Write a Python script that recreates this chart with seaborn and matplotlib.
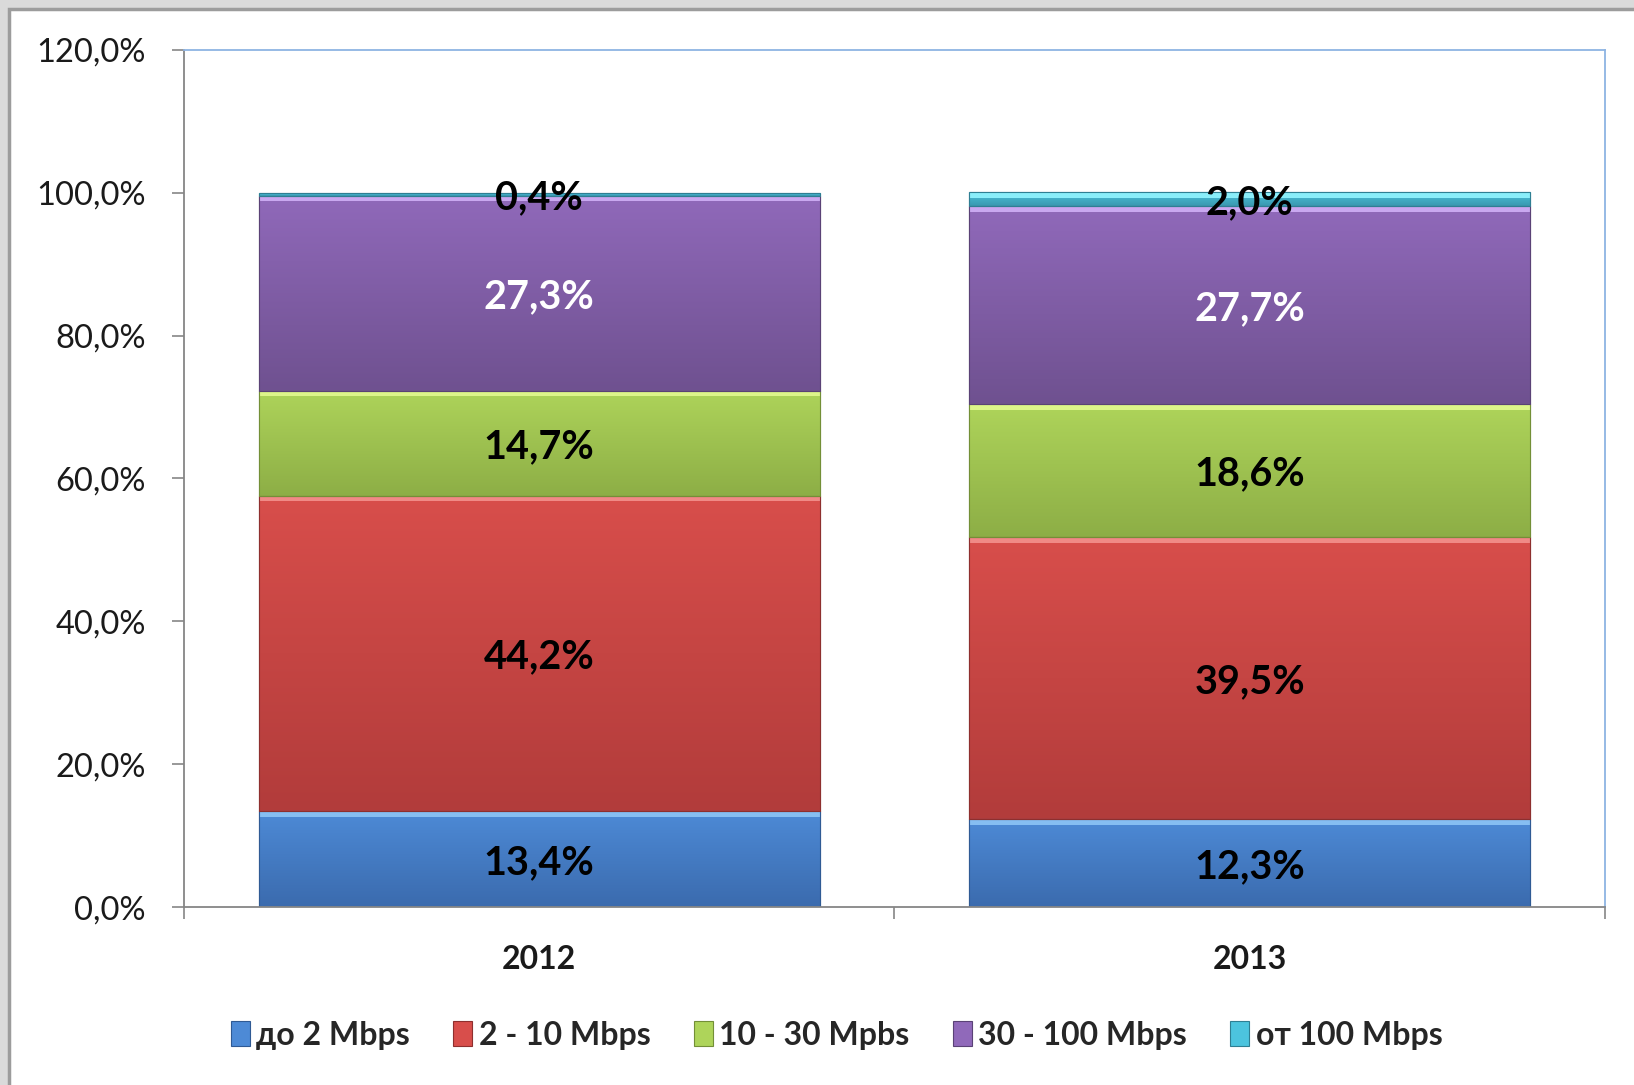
import numpy as np
import seaborn as sns
import matplotlib.pyplot as plt
from matplotlib.colors import LinearSegmentedColormap
from matplotlib.patches import Rectangle

# data
years = ["2012", "2013"]
series = ["до 2 Mbps", "2 - 10 Mbps", "10 - 30 Mpbs", "30 - 100 Mbps", "от 100 Mbps"]
do_2 = [13.4, 12.3]
s2_10 = [44.2, 39.5]
s10_30 = [14.7, 18.6]
s30_100 = [27.3, 27.7]
ot_100 = [0.4, 2.0]
yticks = [0, 20, 40, 60, 80, 100, 120]

# colours: top of gradient, bottom of gradient, highlight strip, edge
top_cols = ["#4D8AD6", "#D84E4B", "#AED45A", "#9069BA", "#4CC4DE"]
bot_cols = ["#3B6BAE", "#B23C3B", "#8DAE46", "#6F5190", "#3A98B0"]
hi_cols = ["#86BEF2", "#F08A86", "#DDF58A", "#C9A8F0", "#8AEEFA"]
edge_cols = ["#2F5A94", "#8E2F2E", "#738F37", "#5A4276", "#2F7F93"]
lab_cols = ["black", "black", "black", "white", "black"]

sns.set_theme(style="white")
plt.rcParams['font.family'] = ['Lato', 'Open Sans', 'DejaVu Sans']

fig = plt.figure(figsize=(16.34, 10.85), dpi=100, facecolor="#dadada")
# white chart panel with grey frame
fig.add_artist(Rectangle((9 / 1634, -0.02), 1.1, (1085 - 9) / 1085 + 0.02,
                         transform=fig.transFigure, facecolor="white",
                         edgecolor="#9c9c9c", lw=2.5, zorder=-1))
ax = fig.add_axes([0.1126, 0.164, 0.8696, 0.790])

all_vals = [do_2, s2_10, s10_30, s30_100, ot_100]
bottom = np.zeros(len(years))
for i, vals in enumerate(all_vals):
    sns.barplot(x=years, y=vals, bottom=bottom.copy(), color=top_cols[i],
                saturation=1, width=0.79, ax=ax, edgecolor=edge_cols[i],
                linewidth=0.8, zorder=2)
    bottom += np.array(vals)

# gradient fill + top highlight for each segment
for i, cont in enumerate(ax.containers):
    cmap = LinearSegmentedColormap.from_list("g%d" % i, [bot_cols[i], top_cols[i]])
    grad = np.linspace(0, 1, 200).reshape(-1, 1)
    for p in cont.patches:
        x0, y0, w, h = p.get_x(), p.get_y(), p.get_width(), p.get_height()
        im = ax.imshow(grad, extent=[x0, x0 + w, y0, y0 + h], origin="lower",
                       aspect="auto", cmap=cmap, zorder=2.1)
        im.set_clip_path(p)
        hl = min(0.8, h * 0.4)
        ax.add_patch(Rectangle((x0, y0 + h - hl), w, hl, facecolor=hi_cols[i],
                               edgecolor="none", zorder=2.2))
        ax.add_patch(Rectangle((x0, y0), w, h, facecolor="none",
                               edgecolor=edge_cols[i], lw=0.8, zorder=2.3))
    labels = [("%.1f%%" % v).replace(".", ",") for v in all_vals[i]]
    txts = ax.bar_label(cont, labels=labels, label_type="center", fontsize=28.5,
                        fontweight="bold", color=lab_cols[i], zorder=5)
    for t in txts:
        t.xyann = (0, -2.5)

ax.set_xlim(-0.5, 1.5)
ax.set_ylim(0, 120)
ax.set_yticks(yticks)
ax.set_yticklabels([("%.1f%%" % t).replace(".", ",") for t in yticks])
ax.tick_params(axis="y", left=True, length=8.6, width=1.2, color="#868686",
               pad=19, labelsize=23.5, labelcolor="#1a1a1a")
ax.set_xticks([0, 1])
ax.set_xticklabels(years, fontweight="bold")
ax.set_xticks([-0.5, 0.5, 1.5], minor=True)
ax.tick_params(axis="x", which="major", length=0, pad=27, labelsize=23,
               labelcolor="#1a1a1a")
ax.tick_params(axis="x", which="minor", bottom=True, length=8.6, width=1.2,
               color="#868686")
ax.set_xlabel("")
ax.set_ylabel("")

for s in ["left", "bottom"]:
    ax.spines[s].set_color("#868686")
    ax.spines[s].set_linewidth(1.3)
for s in ["top", "right"]:
    ax.spines[s].set_color("#8EB4E3")
    ax.spines[s].set_linewidth(1.3)

handles = [Rectangle((0, 0), 1, 1, facecolor=top_cols[i], edgecolor=edge_cols[i], lw=0.8)
           for i in range(len(series))]
fig.legend(handles, series, loc="center", bbox_to_anchor=(0.512, 0.046), ncol=5,
           frameon=False, prop={"size": 23, "weight": "bold"},
           handlelength=0.6, handleheight=0.8, handletextpad=0.2,
           columnspacing=1.35)

fig.savefig("out.png", dpi=100, facecolor=fig.get_facecolor())
